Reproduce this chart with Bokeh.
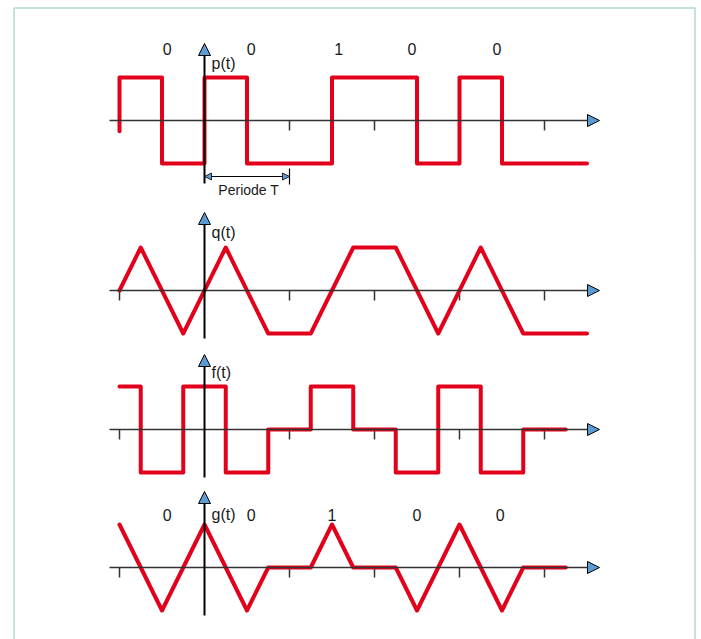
from bokeh.plotting import figure
from bokeh.models import Range1d, Arrow, NormalHead
from bokeh.core.properties import value
from bokeh.embed import file_html
from bokeh.resources import INLINE

# ---------------- data (time in periods T, amplitude in units) ----------------
tick_t = [-1, 1, 2, 3, 4]

p_t = [-1, -1, -0.5, -0.5, 0, 0, 0.5, 0.5, 1.5, 1.5, 2.5, 2.5, 3, 3, 3.5, 3.5, 4.5]
p_v = [-0.25, 1, 1, -1, -1, 1, 1, -1, -1, 1, 1, -1, -1, 1, 1, -1, -1]

q_t = [-1, -0.75, -0.25, 0.25, 0.75, 1.25, 1.75, 2.25, 2.75, 3.25, 3.75, 4.5]
q_v = [0, 1, -1, 1, -1, -1, 1, 1, -1, 1, -1, -1]

f_t = [-1, -0.75, -0.75, -0.25, -0.25, 0.25, 0.25, 0.75, 0.75, 1.25, 1.25,
       1.75, 1.75, 2.25, 2.25, 2.75, 2.75, 3.25, 3.25, 3.75, 3.75, 4.25]
f_v = [1, 1, -1, -1, 1, 1, -1, -1, 0, 0, 1, 1, 0, 0, -1, -1, 1, 1, -1, -1, 0, 0]

g_t = [-1, -0.5, 0, 0.5, 0.75, 1.25, 1.5, 1.75, 2.25, 2.5, 3, 3.5, 3.75, 4.25]
g_v = [1, -1, 1, -1, 0, 0, 1, 0, 0, -1, 1, -1, 0, 0]

bits = ["0", "0", "1", "0", "0"]
bits_p_t = [-0.44, 0.55, 1.58, 2.44, 3.44]
bits_g_t = [-0.44, 0.55, 1.5, 2.5, 3.48]

signal_names = ["p(t)", "q(t)", "f(t)", "g(t)"]
period_label = "Periode T"

# ---------------- layout / style constants ----------------
W, H = 701, 639
PX_T = 85.0          # pixels per period
T0_X = 204.0         # page x of t = 0
AMP = 43.0           # pixels per amplitude unit
BASE = [120, 290, 429, 567]          # page y of each time axis
TIP = [77, 78, 75, 76]               # vertical arrow tip above axis (px)
BOTTOM = [63, 48, 48, 48]            # vertical axis below axis (px)
NAME_DY = [57, 58, 57, 53]
RED = "#e2001a"
BLUE = "#5b9bd5"
FONT = value("Liberation Sans")


def tx(page_x):
    return (page_x - T0_X) / PX_T


def Y(panel, v):
    return -BASE[panel] + AMP * v


p = figure(width=W, height=H,
           x_range=Range1d(tx(0), tx(W)), y_range=Range1d(-H, 0),
           output_backend="svg", toolbar_location=None, min_border=0)
p.axis.visible = False
p.grid.visible = False
p.outline_line_color = None
p.background_fill_color = "white"
p.border_fill_color = "white"

# frame border
p.line([tx(13.5), tx(13.5), tx(694.5), tx(694.5)], [-700, -7.5, -7.5, -700],
       line_color="#b3dcc8", line_width=1.5)

for k in range(4):
    base = -BASE[k]
    # horizontal axis with arrow
    p.add_layout(Arrow(end=NormalHead(size=12, fill_color=BLUE, line_color="black", line_width=1),
                       x_start=tx(109), y_start=base, x_end=tx(599), y_end=base,
                       line_color="#333333", line_width=1.5))
    # ticks
    p.segment(x0=tick_t, y0=[base] * len(tick_t), x1=tick_t, y1=[base - 10] * len(tick_t),
              line_color="#333333", line_width=1.5)
    # vertical axis with arrow
    p.add_layout(Arrow(end=NormalHead(size=12, fill_color=BLUE, line_color="black", line_width=1),
                       x_start=0, y_start=base - BOTTOM[k], x_end=0, y_end=base + TIP[k],
                       line_color="black", line_width=2))
    p.text(x=[tx(211)], y=[base + NAME_DY[k]], text=[signal_names[k]],
           text_font=FONT, text_font_size="16px", text_align="left",
           text_baseline="middle", text_color="#1a1a1a")

# signals
p.line(p_t, [Y(0, v) for v in p_v], line_color=RED, line_width=4, line_join="round", line_cap="round")
p.line(q_t, [Y(1, v) for v in q_v], line_color=RED, line_width=4, line_join="round", line_cap="round")
p.line(f_t, [Y(2, v) for v in f_v], line_color=RED, line_width=4, line_join="round", line_cap="round")
p.line(g_t, [Y(3, v) for v in g_v], line_color=RED, line_width=4, line_join="round", line_cap="round")

# bit labels
p.text(x=bits_p_t, y=[-BASE[0] + 72] * 5, text=bits, text_font=FONT, text_font_size="16px",
       text_align="center", text_baseline="middle", text_color="#1a1a1a")
p.text(x=bits_g_t, y=[-BASE[3] + 53] * 5, text=bits, text_font=FONT, text_font_size="16px",
       text_align="center", text_baseline="middle", text_color="#1a1a1a")

# period marker
p.add_layout(Arrow(start=NormalHead(size=7, fill_color=BLUE, line_color="black", line_width=0.8),
                   end=NormalHead(size=7, fill_color=BLUE, line_color="black", line_width=0.8),
                   x_start=0, y_start=-176, x_end=1, y_end=-176,
                   line_color="black", line_width=1))
p.segment(x0=[1], y0=[-168], x1=[1], y1=[-184], line_color="black", line_width=1.2)
p.text(x=[0.52], y=[-189], text=[period_label], text_font=FONT, text_font_size="14px",
       text_align="center", text_baseline="middle", text_color="#1a1a1a")

open("out.html", "w").write(file_html(p, INLINE))
